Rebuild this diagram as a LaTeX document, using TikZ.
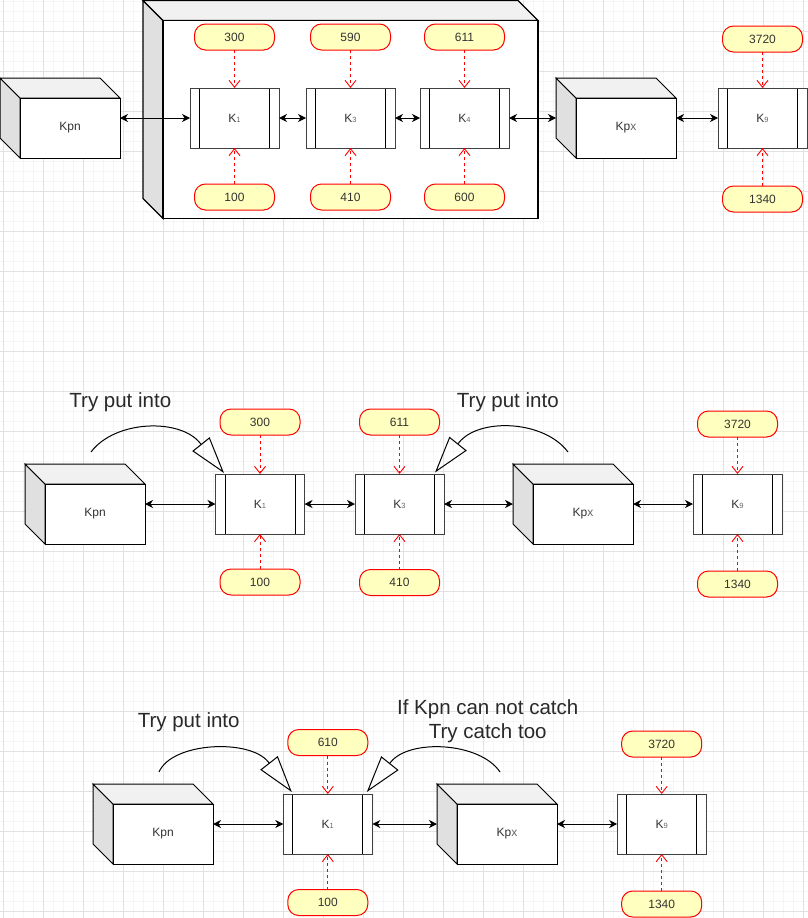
\documentclass[tikz,border=0pt]{standalone}
\usepackage{fontspec}
\setmainfont{Liberation Sans}
\usetikzlibrary{arrows.meta,calc}

\definecolor{gridmajor}{HTML}{E2E2E2}
\definecolor{gridminor}{HTML}{F5F5F5}
\definecolor{pillfill}{HTML}{FFFFC0}
\definecolor{pillline}{HTML}{FF0000}
\definecolor{cubetop}{HTML}{F1F1F1}
\definecolor{cubeside}{HTML}{E0E0E0}
\definecolor{inktext}{HTML}{333333}
\definecolor{subgray}{HTML}{666666}

% "K" with a small index digit
\newcommand\ksub[1]{K{\fontsize{7.5}{8}\selectfont\color{subgray}#1}}

% three visible faces of a box drawn around a bare node
\newcommand\cubefaces[2][1pt]{%
  \filldraw[line width=#1, fill=cubeside]
    (#2.north west) -- ($(#2.north west)+(20,20)$) -- ($(#2.south west)+(20,0)$)
    -- ($(#2.south west)+(0,-20)$) -- cycle;
  \filldraw[line width=#1, fill=cubetop]
    (#2.north west) -- ($(#2.north east)+(-20,0)$) -- ($(#2.north east)+(0,20)$)
    -- ($(#2.north west)+(20,20)$) -- cycle;
  \filldraw[line width=#1, fill=white]
    ($(#2.north west)+(20,20)$) rectangle (#2.south east);
}

\tikzset{
  cubebox/.style 2 args={minimum width=#1pt, minimum height=#2pt,
    inner sep=0pt, outer sep=0pt},
  cubelabel/.style={font=\fontsize{12}{14}\selectfont, text=inktext, inner sep=0pt},
  procbox/.style={draw=black!75, fill=white, line width=1pt,
    minimum width=89pt, minimum height=60pt, inner sep=0pt, outer sep=0pt,
    font=\fontsize{12}{14}\selectfont, text=inktext,
    path picture={
      \draw[line width=1pt, black]
        ($(path picture bounding box.north west)+(9.5,0)$) --
        ($(path picture bounding box.south west)+(9.5,0)$);
      \draw[line width=1pt, black]
        ($(path picture bounding box.north east)+(-9.5,0)$) --
        ($(path picture bounding box.south east)+(-9.5,0)$);
    }},
  pill/.style={draw=pillline, fill=pillfill, rounded corners=11pt, line width=1pt,
    minimum width=80pt, minimum height=26pt, inner sep=0pt, outer sep=0pt,
    font=\fontsize{12}{14}\selectfont, text=inktext},
  link/.style={line width=1pt, black,
    arrows={Stealth[length=8pt,width=8pt,inset=2.5pt]-Stealth[length=8pt,width=8pt,inset=2.5pt]}},
  feed/.style={draw=pillline, line width=0.9pt, dash pattern=on 3pt off 3pt,
    arrows={-Straight Barb[length=7pt,width=11pt]}},
  putinto/.style={line width=1pt, black,
    arrows={-Triangle[open,length=37pt,width=22pt]}},
  note/.style={font=\fontsize{20.5}{24.3}\selectfont, text=inktext!80!black,
    align=center, inner sep=0pt},
  gridminorline/.style={draw=gridminor, line width=0.8pt},
  gridmajorline/.style={draw=gridmajor, line width=0.9pt},
}

\begin{document}
\begin{tikzpicture}[x=1pt,y=-1pt]
\useasboundingbox (0,0) rectangle (808,918);
\fill[white] (0,0) rectangle (808,918);

% background grid
\foreach \x in {3,13,...,803} \draw[gridminorline] (\x,0) -- (\x,918);
\foreach \y in {1,11,...,911} \draw[gridminorline] (0,\y) -- (808,\y);
\foreach \x in {3,43,...,803} \draw[gridmajorline] (\x,0) -- (\x,918);
\foreach \y in {31,71,...,911} \draw[gridmajorline] (0,\y) -- (808,\y);

% ================= first row =================
\node[cubebox={395}{218}] (frame) at (340.5,109.5) {};
\cubefaces[1.4pt]{frame}

\node[cubebox={120}{80}] (kpnA) at (60,118) {};
\cubefaces{kpnA}
\node[cubelabel] (kpnAtext) at ($(kpnA.center)+(10,10)$) {Kpn};

\node[cubebox={120}{80}] (kpxA) at (616,118) {};
\cubefaces{kpxA}
\node[cubelabel] (kpxAtext) at ($(kpxA.center)+(10,10)$) {Kp{\color{subgray}x}};

\node[procbox] (k1A) at (234.5,118) {\ksub{1}};
\node[procbox] (k3A) at (350.5,118) {\ksub{3}};
\node[procbox] (k4A) at (464.5,118) {\ksub{4}};
\node[procbox] (k9A) at (762.5,118) {\ksub{9}};

\node[pill] (pA300) at (234.5,37) {300};
\node[pill] (pA100) at (234.5,197) {100};
\node[pill] (pA590) at (350.5,37) {590};
\node[pill] (pA410) at (350.5,197) {410};
\node[pill] (pA611) at (464.5,37) {611};
\node[pill] (pA600) at (464.5,197) {600};
\node[pill] (pA3720) at (762.5,39) {3720};
\node[pill] (pA1340) at (762.5,199) {1340};

\draw[link] (kpnA.east) -- (k1A.west);
\draw[link] (k1A.east) -- (k3A.west);
\draw[link] (k3A.east) -- (k4A.west);
\draw[link] (k4A.east) -- (kpxA.west);
\draw[link] (kpxA.east) -- (k9A.west);

\draw[feed] (pA300.south) -- (k1A.north);
\draw[feed] (pA100.north) -- (k1A.south);
\draw[feed] (pA590.south) -- (k3A.north);
\draw[feed] (pA410.north) -- (k3A.south);
\draw[feed] (pA611.south) -- (k4A.north);
\draw[feed] (pA600.north) -- (k4A.south);
\draw[feed] (pA3720.south) -- (k9A.north);
\draw[feed] (pA1340.north) -- (k9A.south);

% ================= second row =================
\node[cubebox={120}{80}] (kpnB) at (85,504) {};
\cubefaces{kpnB}
\node[cubelabel] (kpnBtext) at ($(kpnB.center)+(10,10)$) {Kpn};

\node[cubebox={120}{80}] (kpxB) at (573,504) {};
\cubefaces{kpxB}
\node[cubelabel] (kpxBtext) at ($(kpxB.center)+(10,10)$) {Kp{\color{subgray}x}};

\node[procbox] (k1B) at (260,504) {\ksub{1}};
\node[procbox] (k3B) at (399.5,504) {\ksub{3}};
\node[procbox] (k9B) at (737.5,504) {\ksub{9}};

\node[pill] (pB300) at (260,422) {300};
\node[pill] (pB100) at (260,582) {100};
\node[pill] (pB611) at (399.5,422) {611};
\node[pill] (pB410) at (399.5,582.5) {410};
\node[pill] (pB3720) at (737.5,424) {3720};
\node[pill] (pB1340) at (737.5,584) {1340};

\draw[link] (kpnB.east) -- (k1B.west);
\draw[link] (k1B.east) -- (k3B.west);
\draw[link] (k3B.east) -- (kpxB.west);
\draw[link] (kpxB.east) -- (k9B.west);

\draw[feed] (pB300.south) -- (k1B.north);
\draw[feed] (pB100.north) -- (k1B.south);
\draw[feed] (pB611.south) -- (k3B.north);
\draw[feed] (pB410.north) -- (k3B.south);
\draw[feed] (pB3720.south) -- (k9B.north);
\draw[feed] (pB1340.north) -- (k9B.south);

\node[note] (noteB1) at (120.3,401.7) {Try put into};
\node[note] (noteB2) at (507.8,401.7) {Try put into};

\coordinate (fromB1) at (91,452);
\coordinate (tipB1) at ($(k1B.north west)+(8.5,-1)$);
\draw[putinto] (fromB1) .. controls (115,420) and (180,418) .. ($(tipB1)+(-24,-30)$) -- (tipB1);

\coordinate (fromB2) at (568,452);
\coordinate (tipB2) at ($(k3B.north east)+(-9,-1.5)$);
\draw[putinto] (fromB2) .. controls (544,420) and (479,417.5) .. ($(tipB2)+(24,-30)$) -- (tipB2);

% ================= third row =================
\node[cubebox={120}{80}] (kpnC) at (153,824) {};
\cubefaces{kpnC}
\node[cubelabel] (kpnCtext) at ($(kpnC.center)+(10,10)$) {Kpn};

\node[cubebox={120}{80}] (kpxC) at (497,824) {};
\cubefaces{kpxC}
\node[cubelabel] (kpxCtext) at ($(kpxC.center)+(10,10)$) {Kp{\color{subgray}x}};

\node[procbox] (k1C) at (327.8,824) {\ksub{1}};
\node[procbox] (k9C) at (661.7,824) {\ksub{9}};

\node[pill] (pC610) at (327.8,742.5) {610};
\node[pill] (pC100) at (327.8,902.5) {100};
\node[pill] (pC3720) at (661.7,744) {3720};
\node[pill] (pC1340) at (661.7,904) {1340};

\draw[link] (kpnC.east) -- (k1C.west);
\draw[link] (k1C.east) -- (kpxC.west);
\draw[link] (kpxC.east) -- (k9C.west);

\draw[feed] (pC610.south) -- (k1C.north);
\draw[feed] (pC100.north) -- (k1C.south);
\draw[feed] (pC3720.south) -- (k9C.north);
\draw[feed] (pC1340.north) -- (k9C.south);

\node[note] (noteC1) at (188.7,721.7) {Try put into};
\node[note] (noteC2) at (487.7,721.2) {If Kpn can not catch\\Try catch too};

\coordinate (fromC1) at (159,772);
\coordinate (tipC1) at ($(k1C.north west)+(8.5,-2)$);
\draw[putinto] (fromC1) .. controls (172,742) and (249.8,738.4) .. ($(tipC1)+(-23.5,-30)$) -- (tipC1);

\coordinate (fromC2) at (500,772);
\coordinate (tipC2) at ($(k1C.north east)+(-5.5,-2)$);
\draw[putinto] (fromC2) .. controls (480,742) and (409.5,738.6) .. ($(tipC2)+(24,-30)$) -- (tipC2);
\end{tikzpicture}
\end{document}
